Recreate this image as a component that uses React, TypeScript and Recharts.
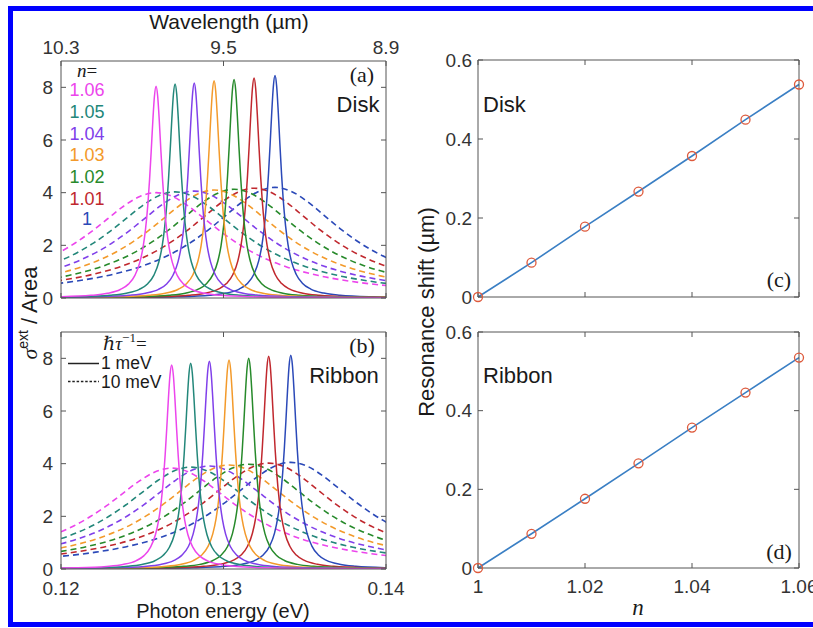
import React from 'react';
import { LineChart, Line, XAxis, YAxis } from 'recharts';

// ---------------- data ----------------
const nValues = [1, 1.01, 1.02, 1.03, 1.04, 1.05, 1.06];
const nLegendLabels = ['1', '1.01', '1.02', '1.03', '1.04', '1.05', '1.06'];

// resonance photon energies (eV) and peak heights, ordered n = 1 ... 1.06
const diskPeakEnergy = [0.13317, 0.13188, 0.13065, 0.12942, 0.1282, 0.12702, 0.12585];
const diskPeak1meV = [8.45, 8.35, 8.3, 8.25, 8.16, 8.13, 8.04];
const diskPeak10meV = [4.2, 4.17, 4.13, 4.1, 4.06, 4.03, 4.0];
const ribbonPeakEnergy = [0.13414, 0.13278, 0.13155, 0.13034, 0.12913, 0.12798, 0.12681];
const ribbonPeak1meV = [8.12, 8.08, 8.0, 7.94, 7.89, 7.81, 7.75];
const ribbonPeak10meV = [4.05, 4.02, 3.98, 3.95, 3.91, 3.87, 3.83];

// line shapes: offset from the peak (meV) -> height relative to the peak
const narrowOffsetMeV = [-22, -14, -9, -6, -4, -3, -2.2, -1.7, -1.3, -1, -0.8, -0.65, -0.5, -0.4, -0.3, -0.2, -0.1, 0, 0.1, 0.2, 0.3, 0.4, 0.5, 0.65, 0.8, 1, 1.3, 1.7, 2.2, 3, 4, 6, 9, 14, 22];
const narrowRel = [0.00042, 0.001, 0.0025, 0.0056, 0.0125, 0.022, 0.0402, 0.0655, 0.107, 0.168, 0.24, 0.324, 0.447, 0.559, 0.692, 0.835, 0.953, 1, 0.953, 0.835, 0.692, 0.559, 0.447, 0.324, 0.24, 0.168, 0.107, 0.0655, 0.0402, 0.022, 0.0125, 0.0056, 0.0025, 0.001, 0.00042];
const broadOffsetMeV = [-22, -18, -15, -12, -10, -8, -7, -6, -5, -4, -3, -2, -1, 0, 1, 2, 3, 4, 5, 6, 7, 8, 10, 12, 15, 18, 22];
const broadRel = [0.053, 0.077, 0.107, 0.158, 0.213, 0.297, 0.356, 0.429, 0.52, 0.628, 0.75, 0.871, 0.964, 1, 0.964, 0.871, 0.75, 0.628, 0.52, 0.429, 0.356, 0.297, 0.213, 0.158, 0.107, 0.077, 0.053];

// resonance shift (µm) vs n
const diskShift = [0, 0.087, 0.178, 0.267, 0.357, 0.449, 0.538];
const ribbonShift = [0, 0.087, 0.176, 0.266, 0.357, 0.446, 0.535];

// ticks
const energyTicks = [0.12, 0.13, 0.14];
const energyTickLabels = ['0.12', '0.13', '0.14'];
const wavelengthTickLabels = ['10.3', '9.5', '8.9'];
const sigmaTicks = [0, 2, 4, 6, 8];
const sigmaTickLabels = ['0', '2', '4', '6', '8'];
const shiftTicks = [0, 0.2, 0.4, 0.6];
const shiftTickLabels = ['0', '0.2', '0.4', '0.6'];
const nTicks = [1, 1.02, 1.04, 1.06];
const nTickLabels = ['1', '1.02', '1.04', '1.06'];

// ---------------- styles ----------------
const W = 813;
const H = 628;
const SANS = '"Liberation Sans", Arial, Helvetica, sans-serif';
const SERIF = '"Liberation Serif", "DejaVu Serif", "Times New Roman", serif';
const AXIS = '#555555';
const TICK_TEXT = { fill: '#333333', fontSize: 19, fontFamily: SANS };
const nColors = ['#2b49b8', '#c0282e', '#278a2b', '#f39a2b', '#8040ea', '#23877a', '#ec45ec'];
const SHIFT_LINE = '#3a7fc4';
const SHIFT_MARK = '#de5a3c';

const NoTick = () => null;

type Box = { left: number; top: number; right: number; bottom: number };

function marginOf(box: Box) {
  return { top: box.top - 1, left: box.left - 1, right: W - box.right - 1, bottom: H - box.bottom - 1 };
}

function buildCurve(center: number, peak: number, offsets: number[], rel: number[]) {
  return offsets.map((o, i) => ({ x: center + o / 1000, y: peak * rel[i] }));
}

function SpectraPanel(props: {
  box: Box;
  centers: number[];
  peaks1: number[];
  peaks10: number[];
  topLabels: boolean;
  bottomLabels: boolean;
}) {
  const { box, centers, peaks1, peaks10, topLabels, bottomLabels } = props;
  const order = [0, 1, 2, 3, 4, 5, 6];
  return (
    <div style={{ position: 'absolute', left: 0, top: 0 }}>
      <LineChart width={W} height={H} margin={marginOf(box)}>
        <XAxis
          xAxisId="bottom"
          type="number"
          dataKey="x"
          domain={[0.12, 0.14]}
          ticks={energyTicks}
          allowDataOverflow
          orientation="bottom"
          height={1}
          interval={0}
          tickSize={-5}
          tickMargin={18}
          stroke={AXIS}
          tick={bottomLabels ? TICK_TEXT : NoTick}
          tickFormatter={(v: number, i: number) => energyTickLabels[i]}
        />
        <XAxis
          xAxisId="top"
          type="number"
          dataKey="x"
          domain={[0.12, 0.14]}
          ticks={energyTicks}
          allowDataOverflow
          orientation="top"
          height={1}
          interval={0}
          tickSize={-5}
          tickMargin={12}
          stroke={AXIS}
          tick={topLabels ? TICK_TEXT : NoTick}
          tickFormatter={(v: number, i: number) => wavelengthTickLabels[i]}
        />
        <YAxis
          yAxisId="left"
          type="number"
          domain={[0, 9]}
          ticks={sigmaTicks}
          allowDataOverflow
          width={1}
          interval={0}
          tickSize={-5}
          tickMargin={13}
          stroke={AXIS}
          tick={TICK_TEXT}
          tickFormatter={(v: number, i: number) => sigmaTickLabels[i]}
        />
        <YAxis
          yAxisId="right"
          orientation="right"
          type="number"
          domain={[0, 9]}
          ticks={sigmaTicks}
          allowDataOverflow
          width={1}
          interval={0}
          tickSize={-5}
          stroke={AXIS}
          tick={NoTick}
        />
        {order.map((i) => (
          <Line
            key={'b' + i}
            xAxisId="top"
            yAxisId="right"
            data={buildCurve(centers[i], peaks10[i], broadOffsetMeV, broadRel)}
            dataKey="y"
            type="monotone"
            stroke={nColors[i]}
            strokeWidth={1.6}
            strokeDasharray="6 4"
            dot={false}
            activeDot={false}
            isAnimationActive={false}
          />
        ))}
        {order.map((i) => (
          <Line
            key={'s' + i}
            xAxisId="bottom"
            yAxisId="left"
            data={buildCurve(centers[i], peaks1[i], narrowOffsetMeV, narrowRel)}
            dataKey="y"
            type="monotone"
            stroke={nColors[i]}
            strokeWidth={1.5}
            dot={false}
            activeDot={false}
            isAnimationActive={false}
          />
        ))}
      </LineChart>
    </div>
  );
}

function ShiftPanel(props: { box: Box; shifts: number[]; bottomLabels: boolean }) {
  const { box, shifts, bottomLabels } = props;
  const rows = nValues.map((n, i) => ({ n, shift: shifts[i] }));
  return (
    <div style={{ position: 'absolute', left: 0, top: 0 }}>
      <LineChart width={W} height={H} margin={marginOf(box)} data={rows}>
        <XAxis
          xAxisId="bottom"
          type="number"
          dataKey="n"
          domain={[1, 1.06]}
          ticks={nTicks}
          orientation="bottom"
          height={1}
          interval={0}
          tickSize={-5}
          tickMargin={17}
          stroke={AXIS}
          tick={bottomLabels ? TICK_TEXT : NoTick}
          tickFormatter={(v: number, i: number) => nTickLabels[i]}
        />
        <XAxis
          xAxisId="top"
          type="number"
          dataKey="n"
          domain={[1, 1.06]}
          ticks={nTicks}
          orientation="top"
          height={1}
          interval={0}
          tickSize={-5}
          stroke={AXIS}
          tick={NoTick}
        />
        <YAxis
          yAxisId="left"
          type="number"
          domain={[0, 0.6]}
          ticks={shiftTicks}
          width={1}
          interval={0}
          tickSize={-5}
          tickMargin={11}
          stroke={AXIS}
          tick={TICK_TEXT}
          tickFormatter={(v: number, i: number) => shiftTickLabels[i]}
        />
        <YAxis
          yAxisId="right"
          orientation="right"
          type="number"
          domain={[0, 0.6]}
          ticks={shiftTicks}
          width={1}
          interval={0}
          tickSize={-5}
          stroke={AXIS}
          tick={NoTick}
        />
        <Line
          xAxisId="bottom"
          yAxisId="left"
          dataKey="shift"
          type="linear"
          stroke={SHIFT_LINE}
          strokeWidth={1.6}
          dot={false}
          activeDot={false}
          isAnimationActive={false}
        />
        <Line
          xAxisId="top"
          yAxisId="right"
          dataKey="shift"
          type="linear"
          stroke="none"
          dot={{ r: 4.5, stroke: SHIFT_MARK, strokeWidth: 1.3, fill: 'none' }}
          activeDot={false}
          isAnimationActive={false}
        />
      </LineChart>
    </div>
  );
}

const boxA: Box = { left: 61, top: 61, right: 386, bottom: 298 };
const boxB: Box = { left: 61, top: 332, right: 386, bottom: 569 };
const boxC: Box = { left: 478, top: 60, right: 799, bottom: 297 };
const boxD: Box = { left: 478, top: 332, right: 799, bottom: 568 };

function Annotations() {
  const legendY = [225.4, 204.7, 183, 161.4, 139.7, 118, 96.4];
  return (
    <svg width={W} height={H} style={{ position: 'absolute', left: 0, top: 0, pointerEvents: 'none' }}>
      {/* axis titles */}
      <text x={229} y={29} textAnchor="middle" fontSize={21} fontFamily={SANS} fill="#1a1a1a">
        Wavelength (µm)
      </text>
      <text x={223} y={618} textAnchor="middle" fontSize={20} fontFamily={SANS} fill="#1a1a1a">
        Photon energy (eV)
      </text>
      <text x={638} y={615} textAnchor="middle" fontSize={23} fontFamily={SERIF} fontStyle="italic" fill="#1a1a1a">
        n
      </text>
      <text transform="translate(434,312) rotate(-90)" textAnchor="middle" fontSize={22} fontFamily={SANS} fill="#1a1a1a">
        Resonance shift (µm)
      </text>
      <text transform="translate(37,313) rotate(-90)" textAnchor="middle" fontSize={22} fontFamily={SANS} fill="#1a1a1a">
        <tspan fontFamily={SERIF} fontStyle="italic">σ</tspan>
        <tspan fontSize={14} dy={-9}>ext</tspan>
        <tspan dy={9}> / Area</tspan>
      </text>

      {/* panel (a) */}
      <text x={87} y={77} textAnchor="middle" fontSize={19} fontFamily={SERIF} fill="#1a1a1a">
        <tspan fontStyle="italic">n</tspan>=
      </text>
      {nLegendLabels.map((lab, i) => (
        <text key={lab} x={87} y={legendY[i]} textAnchor="middle" fontSize={18} fontFamily={SANS} fill={nColors[i]}>
          {lab}
        </text>
      ))}
      <text x={362} y={82} textAnchor="middle" fontSize={22} fontFamily={SERIF} fill="#1a1a1a">(a)</text>
      <text x={358} y={112} textAnchor="middle" fontSize={22} fontFamily={SANS} fill="#1a1a1a">Disk</text>

      {/* panel (b) */}
      <text x={362} y={353} textAnchor="middle" fontSize={22} fontFamily={SERIF} fill="#1a1a1a">(b)</text>
      <text x={344} y={383} textAnchor="middle" fontSize={22} fontFamily={SANS} fill="#1a1a1a">Ribbon</text>
      <text x={103} y={350} fontSize={19} fontFamily={SERIF} fill="#1a1a1a">
        <tspan fontStyle="italic">ℏτ</tspan>
        <tspan fontSize={13} dy={-8}>−1</tspan>
        <tspan dy={8}>=</tspan>
      </text>
      <line x1={68} y1={363.5} x2={99} y2={363.5} stroke="#222" strokeWidth={1.5} />
      <text x={101} y={369} fontSize={17.5} fontFamily={SANS} fill="#1a1a1a">1 meV</text>
      <line x1={68} y1={381.5} x2={99} y2={381.5} stroke="#222" strokeWidth={1.5} strokeDasharray="2.5 1.8" />
      <text x={101} y={388} fontSize={17.5} fontFamily={SANS} fill="#1a1a1a">10 meV</text>

      {/* panel (c) */}
      <text x={779} y={287} textAnchor="middle" fontSize={22} fontFamily={SERIF} fill="#1a1a1a">(c)</text>
      <text x={483} y={112} fontSize={22} fontFamily={SANS} fill="#1a1a1a">Disk</text>

      {/* panel (d) */}
      <text x={779} y={559} textAnchor="middle" fontSize={22} fontFamily={SERIF} fill="#1a1a1a">(d)</text>
      <text x={483} y={383} fontSize={22} fontFamily={SANS} fill="#1a1a1a">Ribbon</text>
    </svg>
  );
}

export default function App() {
  return (
    <div style={{ position: 'absolute', left: 0, top: 0, width: W, height: H, overflow: 'hidden', background: '#ffffff' }}>
      <div
        style={{
          position: 'absolute',
          left: 8,
          top: 6,
          width: W,
          height: 621,
          borderLeft: '5px solid #0000ff',
          borderTop: '5px solid #0000ff',
          borderBottom: '5px solid #0000ff',
          boxSizing: 'border-box',
        }}
      />
      <SpectraPanel box={boxA} centers={diskPeakEnergy} peaks1={diskPeak1meV} peaks10={diskPeak10meV} topLabels bottomLabels={false} />
      <SpectraPanel box={boxB} centers={ribbonPeakEnergy} peaks1={ribbonPeak1meV} peaks10={ribbonPeak10meV} topLabels={false} bottomLabels />
      <ShiftPanel box={boxC} shifts={diskShift} bottomLabels={false} />
      <ShiftPanel box={boxD} shifts={ribbonShift} bottomLabels />
      <Annotations />
    </div>
  );
}
